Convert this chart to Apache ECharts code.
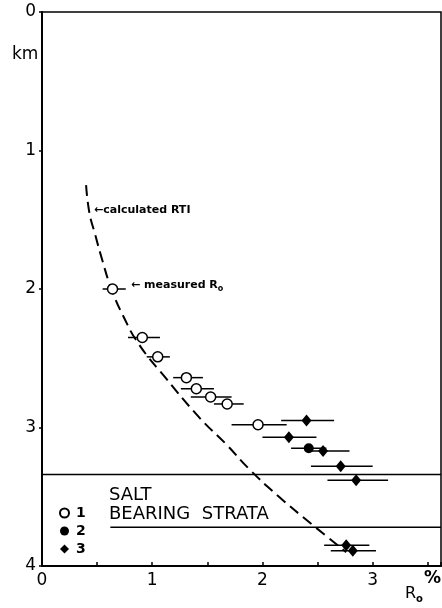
<!DOCTYPE html>
<html>
<head>
<meta charset="utf-8">
<script src="https://cdn.jsdelivr.net/npm/echarts@6/dist/echarts.min.js"></script>
<style>
  html, body { margin: 0; padding: 0; background: #fff; }
  #main { width: 442px; height: 608px; }
</style>
</head>
<body>
<div id="main"></div>
<script>
// Ro (%) vs depth (km)
var xTicks = [0, 1, 2, 3];
var yTicks = [0, 1, 2, 3, 4];

// group 1 (open circles)
var g1Ro    = [0.64, 0.91, 1.05, 1.31, 1.40, 1.53, 1.68, 1.96];
var g1Depth = [2.00, 2.35, 2.49, 2.64, 2.72, 2.78, 2.83, 2.98];
var g1Low   = [0.55, 0.78, 0.95, 1.19, 1.26, 1.35, 1.56, 1.72];
var g1High  = [0.76, 1.07, 1.16, 1.46, 1.56, 1.72, 1.83, 2.22];

// group 2 (filled circles)
var g2Ro    = [2.42];
var g2Depth = [3.15];
var g2Low   = [2.26];
var g2High  = [2.58];

// group 3 (diamonds)
var g3Ro    = [2.40, 2.24, 2.55, 2.71, 2.85, 2.76, 2.82];
var g3Depth = [2.95, 3.07, 3.17, 3.28, 3.38, 3.85, 3.89];
var g3Low   = [2.17, 2.00, 2.40, 2.44, 2.59, 2.56, 2.62];
var g3High  = [2.65, 2.49, 2.79, 3.00, 3.14, 2.97, 3.03];

// calculated RTI curve
var rtiDepth = [1.25, 1.45, 1.60, 1.80, 2.00, 2.20, 2.40, 2.64, 2.93, 3.12, 3.30, 3.50, 3.70, 3.90];
var rtiRo    = [0.40, 0.43, 0.48, 0.55, 0.63, 0.74, 0.88, 1.12, 1.43, 1.67, 1.88, 2.15, 2.45, 2.76];

// salt bearing strata limits
var saltTop = 3.34;
var saltBottom = 3.72;
var saltBottomStart = 0.62;

var X_MAX = 3.62;

function pts(xs, ys) {
  return xs.map(function (x, i) { return [x, ys[i]]; });
}
function bars(lo, hi, ys) {
  return lo.map(function (l, i) { return [l, hi[i], ys[i]]; });
}

function renderBar(params, api) {
  var a = api.coord([api.value(0), api.value(2)]);
  var b = api.coord([api.value(1), api.value(2)]);
  return {
    type: 'line',
    shape: { x1: a[0], y1: a[1], x2: b[0], y2: b[1] },
    style: { stroke: '#000', lineWidth: 1.5 }
  };
}

var allBars = bars(g1Low, g1High, g1Depth)
  .concat(bars(g2Low, g2High, g2Depth))
  .concat(bars(g3Low, g3High, g3Depth));

var chart = echarts.init(document.getElementById('main'));
var font = 'DejaVu Sans';

chart.setOption({
  animation: false,
  backgroundColor: '#fff',
  grid: { left: 42, top: 12, right: 1, bottom: 42, show: true, borderColor: '#000', borderWidth: 1.5 },
  xAxis: {
    type: 'value', min: 0, max: X_MAX, interval: 1, position: 'bottom',
    axisLine: { show: true, onZero: false, lineStyle: { color: '#000', width: 2 } },
    axisTick: { show: true, inside: true, length: 4, lineStyle: { color: '#000', width: 1.5 } },
    minorTick: { show: true, splitNumber: 2, length: 4, lineStyle: { color: '#000', width: 1.5 } },
    splitLine: { show: false },
    axisLabel: {
      color: '#000', fontSize: 17, fontFamily: font, margin: 6, showMaxLabel: false,
      formatter: function (v) { return xTicks.indexOf(v) >= 0 ? String(v) : ''; }
    }
  },
  yAxis: {
    type: 'value', min: 0, max: 4, interval: 1, inverse: true,
    axisLine: { show: true, onZero: false, lineStyle: { color: '#000', width: 2 } },
    axisTick: { show: true, length: 3, lineStyle: { color: '#000', width: 1.5 } },
    splitLine: { show: false },
    axisLabel: {
      color: '#000', fontSize: 17, fontFamily: font, margin: 6,
      formatter: function (v) { return yTicks.indexOf(v) >= 0 ? String(v) : ''; }
    }
  },
  legend: {
    orient: 'vertical', left: 54, top: 501, itemGap: 4, itemWidth: 9, itemHeight: 9,
    data: ['1', '2', '3'],
    textStyle: { color: '#000', fontSize: 14, fontWeight: 'bold', fontFamily: font, padding: [0, 0, 0, 2] }
  },
  graphic: [
    { type: 'text', left: 12, top: 46, style: { text: 'km', font: '17px DejaVu Sans', fill: '#000' } },
    { type: 'text', left: 424, top: 570, style: { text: '%', font: 'bold 17px DejaVu Sans', fill: '#000' } },
    { type: 'text', left: 405, top: 586, style: {
      text: '{a|R}{b|o}', rich: {
        a: { fontSize: 16, fontFamily: font, fill: '#000' },
        b: { fontSize: 10, fontFamily: font, fontWeight: 'bold', fill: '#000', padding: [10, 0, 0, 0] }
      } } },
    { type: 'text', left: 94, top: 205, style: { text: '\u2190calculated RTI', font: 'bold 11px DejaVu Sans', fill: '#000' } },
    { type: 'text', left: 131, top: 280, style: {
      text: '{a|\u2190 measured R}{b|o}', rich: {
        a: { fontSize: 11, fontWeight: 'bold', fontFamily: font, fill: '#000' },
        b: { fontSize: 8, fontWeight: 'bold', fontFamily: font, fill: '#000', padding: [6, 0, 0, 0] }
      } } },
    { type: 'text', left: 109, top: 486, style: { text: 'SALT', font: '18px DejaVu Sans', fill: '#000' } },
    { type: 'text', left: 109, top: 505, style: { text: 'BEARING  STRATA', font: '18px DejaVu Sans', fill: '#000' } }
  ],
  series: [
    {
      type: 'line', name: 'RTI', data: pts(rtiRo, rtiDepth), smooth: true, showSymbol: false,
      lineStyle: { color: '#000', width: 2, type: [11, 6] }, z: 2
    },
    {
      type: 'line', name: 'saltTop', data: [[0, saltTop], [X_MAX, saltTop]], showSymbol: false,
      lineStyle: { color: '#000', width: 1.5 }, z: 1
    },
    {
      type: 'line', name: 'saltBottom', data: [[saltBottomStart, saltBottom], [X_MAX, saltBottom]], showSymbol: false,
      lineStyle: { color: '#000', width: 1.5 }, z: 1
    },
    {
      type: 'custom', name: 'errors', renderItem: renderBar, data: allBars,
      encode: { x: [0, 1], y: 2 }, z: 3
    },
    {
      type: 'scatter', name: '1', data: pts(g1Ro, g1Depth), symbol: 'circle', symbolSize: 10,
      itemStyle: { color: '#fff', borderColor: '#000', borderWidth: 1.5, opacity: 1 }, z: 4
    },
    {
      type: 'scatter', name: '2', data: pts(g2Ro, g2Depth), symbol: 'circle', symbolSize: 10,
      itemStyle: { color: '#000', opacity: 1 }, z: 4
    },
    {
      type: 'scatter', name: '3', data: pts(g3Ro, g3Depth), symbol: 'diamond', symbolSize: [10, 12],
      itemStyle: { color: '#000', opacity: 1 }, z: 4
    }
  ]
});
</script>
</body>
</html>
